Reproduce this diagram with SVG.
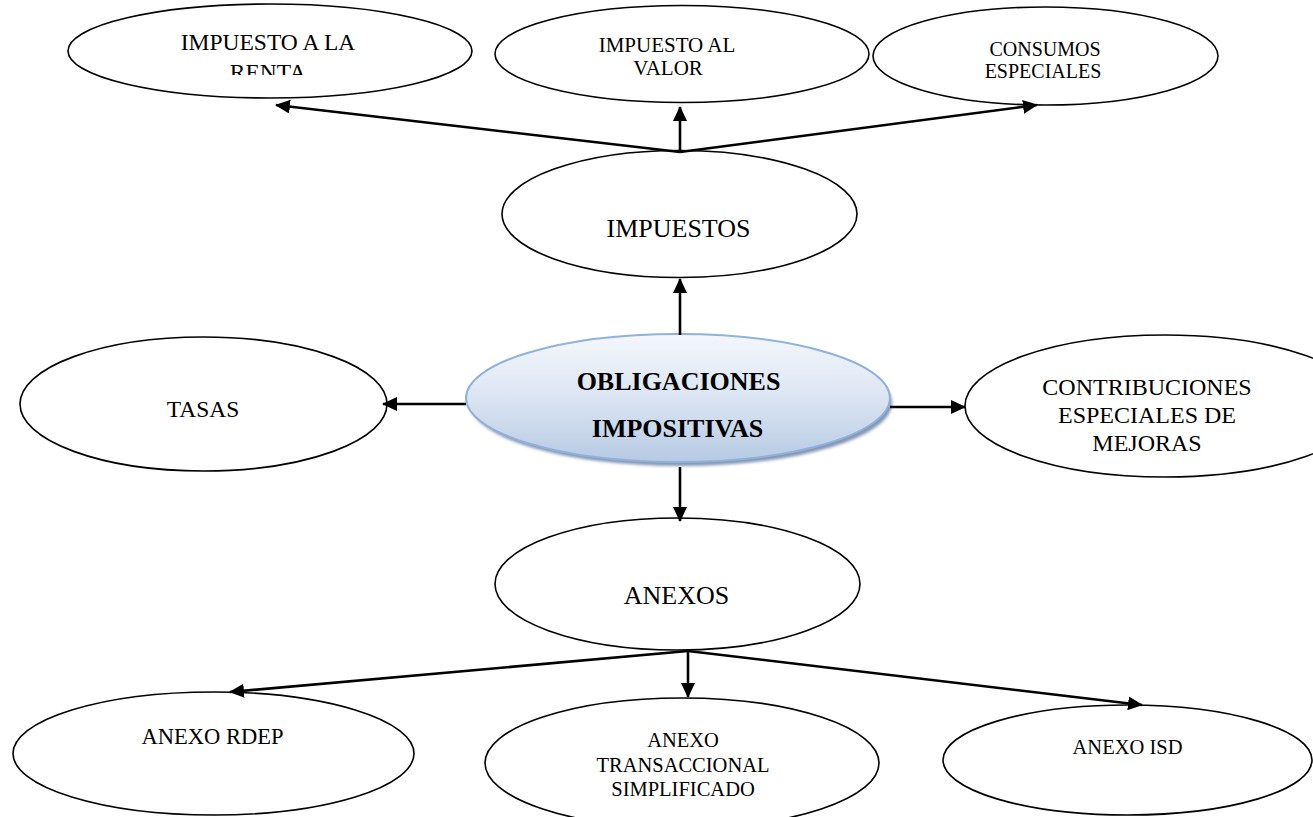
<svg xmlns="http://www.w3.org/2000/svg" width="1313" height="817" viewBox="0 0 1313 817">
  <style>
    .node { fill: #ffffff; stroke: #000000; stroke-width: 1.6; }
    .lbl { font-family: "Liberation Serif", "Times New Roman", serif; fill: #000000; text-anchor: middle; }
    .conn { stroke: #000000; stroke-width: 2.6; fill: none; marker-end: url(#arrow); }
  </style>
  <defs>
    <marker id="arrow" viewBox="0 0 15 14" markerWidth="15" markerHeight="14" refX="14" refY="7" orient="auto" markerUnits="userSpaceOnUse">
      <path d="M0,0 L15,7 L0,14 z" fill="#000000"/>
    </marker>
    <linearGradient id="mainFill" x1="0" y1="0" x2="0" y2="1">
      <stop offset="0" stop-color="#f4f7fc"/>
      <stop offset="0.5" stop-color="#dbe5f2"/>
      <stop offset="1" stop-color="#b6cae3"/>
    </linearGradient>
    <filter id="soft" x="-10%" y="-10%" width="120%" height="130%">
      <feGaussianBlur stdDeviation="1.5"/>
    </filter>
    <clipPath id="rentaClip">
      <rect x="60" y="0" width="420" height="75"/>
    </clipPath>
  </defs>

  <rect width="1313" height="817" fill="#ffffff"/>

  <!-- upper row -->
  <g id="renta">
    <ellipse class="node" cx="270" cy="51" rx="202" ry="47"/>
    <g clip-path="url(#rentaClip)">
      <text class="lbl" x="268" y="50" font-size="23.5">IMPUESTO A LA</text>
      <text class="lbl" x="268" y="80" font-size="23.5">RENTA</text>
    </g>
  </g>
  <g id="valor">
    <ellipse class="node" cx="682" cy="54" rx="187" ry="48.5"/>
    <text class="lbl" x="667" y="52" font-size="21">IMPUESTO AL</text>
    <text class="lbl" x="668" y="75" font-size="21">VALOR</text>
  </g>
  <g id="consumos">
    <ellipse class="node" cx="1045.5" cy="56" rx="172.5" ry="49"/>
    <text class="lbl" x="1045" y="56" font-size="20">CONSUMOS</text>
    <text class="lbl" x="1043" y="78" font-size="20">ESPECIALES</text>
  </g>

  <g id="impuestos">
    <ellipse class="node" cx="679.5" cy="214" rx="177.5" ry="63.5"/>
    <text class="lbl" x="678.5" y="237" font-size="26">IMPUESTOS</text>
  </g>

  <!-- middle row -->
  <g id="tasas">
    <ellipse class="node" cx="203.5" cy="404" rx="183.5" ry="67"/>
    <text class="lbl" x="203" y="417" font-size="23.5">TASAS</text>
  </g>
  <g id="obligaciones">
    <ellipse cx="681" cy="403" rx="211" ry="63" fill="#8496b3" filter="url(#soft)"/>
    <ellipse cx="678" cy="398" rx="212" ry="64" fill="url(#mainFill)" stroke="#8fb1dc" stroke-width="2"/>
    <text class="lbl" x="678.5" y="390" font-size="26" font-weight="bold">OBLIGACIONES</text>
    <text class="lbl" x="677.5" y="437" font-size="26" font-weight="bold">IMPOSITIVAS</text>
  </g>
  <g id="contribuciones">
    <ellipse class="node" cx="1165" cy="406" rx="200" ry="71"/>
    <text class="lbl" x="1147" y="395" font-size="24">CONTRIBUCIONES</text>
    <text class="lbl" x="1147" y="423" font-size="24">ESPECIALES DE</text>
    <text class="lbl" x="1147" y="451" font-size="24">MEJORAS</text>
  </g>

  <g id="anexos">
    <ellipse class="node" cx="677.5" cy="584" rx="182.5" ry="66"/>
    <text class="lbl" x="676.5" y="604" font-size="26">ANEXOS</text>
  </g>

  <!-- lower row -->
  <g id="rdep">
    <ellipse class="node" cx="213.5" cy="753.5" rx="200.5" ry="61.5"/>
    <text class="lbl" x="212.5" y="744" font-size="22.5">ANEXO RDEP</text>
  </g>
  <g id="transaccional">
    <ellipse class="node" cx="682" cy="763" rx="197" ry="65"/>
    <text class="lbl" x="683" y="747" font-size="20.5">ANEXO</text>
    <text class="lbl" x="683" y="772" font-size="20.5">TRANSACCIONAL</text>
    <text class="lbl" x="683" y="796" font-size="20.5">SIMPLIFICADO</text>
  </g>
  <g id="isd">
    <ellipse class="node" cx="1127.5" cy="760" rx="184.5" ry="55"/>
    <text class="lbl" x="1127.5" y="754" font-size="20.5">ANEXO ISD</text>
  </g>

  <!-- connectors -->
  <g id="connectors">
    <line class="conn" x1="680" y1="335" x2="680" y2="279"/>
    <line class="conn" x1="680" y1="152" x2="680" y2="107"/>
    <line class="conn" x1="680" y1="152" x2="276" y2="105"/>
    <line class="conn" x1="680" y1="152" x2="1037" y2="105"/>
    <line class="conn" x1="466" y1="404" x2="383" y2="404"/>
    <line class="conn" x1="890" y1="407" x2="965" y2="407"/>
    <line class="conn" x1="680" y1="467" x2="680" y2="521"/>
    <line class="conn" x1="688" y1="651" x2="688" y2="697"/>
    <line class="conn" x1="688" y1="651" x2="230" y2="692"/>
    <line class="conn" x1="688" y1="651" x2="1142" y2="705"/>
  </g>
</svg>
